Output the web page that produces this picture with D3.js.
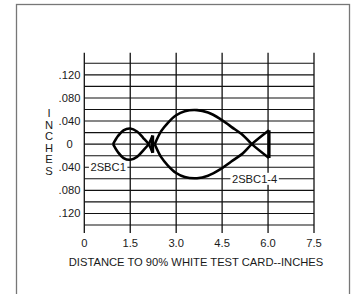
<!DOCTYPE html>
<html>
<head>
<meta charset="utf-8">
<script src="https://cdn.jsdelivr.net/npm/d3@7"></script>
<style>
  html, body { margin: 0; padding: 0; background: #fff; }
  svg { display: block; }
  text { font-family: "Liberation Sans", Arial, sans-serif; fill: #1a1a1a; }
</style>
</head>
<body>
<svg id="chart" width="352" height="294"></svg>
<script>
// ---- data ----
const xTicks = [0, 1.5, 3.0, 4.5, 6.0, 7.5];
const xTickLabels = ["0", "1.5", "3.0", "4.5", "6.0", "7.5"];
const yGrid = [0.14, 0.12, 0.10, 0.08, 0.06, 0.04, 0.02, 0, -0.02, -0.04, -0.06, -0.08, -0.10, -0.12, -0.14];
const yTicks = [0.12, 0.08, 0.04, 0, -0.04, -0.08, -0.12];
const yTickLabels = [".120", ".080", ".040", "0", ".040", ".080", ".120"];

// 2SBC1 (small pattern): upper contour from nose to tail bottom, lower from nose to tail top
const s1UpperX = [0.94, 1.10, 1.28, 1.50, 1.72, 1.92, 2.10, 2.23];
const s1UpperY = [0.000, 0.014, 0.024, 0.027, 0.022, 0.011, 0.000, -0.015];
const s1LowerX = [0.94, 1.10, 1.28, 1.50, 1.72, 1.92, 2.10, 2.23];
const s1LowerY = [0.000, -0.014, -0.024, -0.027, -0.022, -0.011, 0.000, 0.015];

// 2SBC1-4 (large pattern)
const s2UpperX = [2.30, 2.51, 2.73, 3.00, 3.28, 3.68, 4.04, 4.42, 4.80, 5.18, 5.47, 6.03];
const s2UpperY = [0.000, 0.0225, 0.037, 0.050, 0.057, 0.059, 0.0547, 0.0443, 0.030, 0.0156, 0.000, -0.024];
const s2LowerX = [2.30, 2.51, 2.73, 3.00, 3.28, 3.68, 4.04, 4.42, 4.80, 5.18, 5.47, 6.03];
const s2LowerY = [0.000, -0.0225, -0.037, -0.050, -0.057, -0.059, -0.0547, -0.0443, -0.030, -0.0156, 0.000, 0.024];

const seriesNames = ["2SBC1", "2SBC1-4"];
const labelPos = [[0.20, -0.04], [4.82, -0.06]];

// ---- drawing ----
const svg = d3.select("#chart");
const x = d3.scaleLinear().domain([0, 7.5]).range([84.3, 314]);
const y = d3.scaleLinear().domain([-0.14, 0.14]).range([225, 63.3]);
const fs = 11.2;

// frame
svg.append("rect").attr("x", 16.5).attr("y", 4.5).attr("width", 333).attr("height", 300)
  .attr("fill", "none").attr("stroke", "#777").attr("stroke-width", 1.3);

// horizontal grid
svg.append("g").selectAll("line").data(yGrid).join("line")
  .attr("x1", x(0)).attr("x2", x(7.5))
  .attr("y1", d => y(d)).attr("y2", d => y(d))
  .attr("stroke", "#111").attr("stroke-width", 1.1);

// vertical grid lines (extend beyond the grid)
svg.append("g").selectAll("line").data(xTicks).join("line")
  .attr("x1", d => x(d)).attr("x2", d => x(d))
  .attr("y1", y(0.14) - 10.5).attr("y2", y(-0.14) + 8)
  .attr("stroke", "#111").attr("stroke-width", 1.3);

// x tick labels
svg.append("g").selectAll("text").data(xTicks).join("text")
  .attr("x", d => x(d)).attr("y", 246.8)
  .attr("text-anchor", "middle").attr("font-size", fs)
  .text((d, i) => xTickLabels[i]);

// y tick labels
svg.append("g").selectAll("text").data(yTicks).join("text")
  .attr("x", 69.5).attr("y", d => y(d) + 4)
  .attr("text-anchor", "middle").attr("font-size", fs)
  .text((d, i) => yTickLabels[i]);

// y title (stacked letters)
const yTitle = "INCHES".split("");
svg.append("g").selectAll("text").data(yTitle).join("text")
  .attr("x", 49).attr("y", (d, i) => 117.3 + i * 11.5)
  .attr("text-anchor", "middle").attr("font-size", fs)
  .text(d => d);

// x title
svg.append("text").attr("x", 196).attr("y", 265.8)
  .attr("text-anchor", "middle").attr("font-size", fs)
  .text("DISTANCE TO 90% WHITE TEST CARD--INCHES");

// curves
const line = d3.line().x(d => x(d[0])).y(d => y(d[1])).curve(d3.curveCatmullRom.alpha(0.5));
const straight = d3.line().x(d => x(d[0])).y(d => y(d[1]));
const shapes = [
  [s1UpperX, s1UpperY, s1LowerX, s1LowerY],
  [s2UpperX, s2UpperY, s2LowerX, s2LowerY]
];
const cg = svg.append("g").attr("fill", "none").attr("stroke", "#000").attr("stroke-width", 2.6)
  .attr("stroke-linejoin", "round");
shapes.forEach(s => {
  const up = s[0].map((v, i) => [v, s[1][i]]);
  const lo = s[2].map((v, i) => [v, s[3][i]]);
  cg.append("path").attr("d", line(up));
  cg.append("path").attr("d", line(lo));
  cg.append("path").attr("d", straight([up[up.length - 1], lo[lo.length - 1]])).attr("stroke-width", 3.2);
});

// series labels with white background
seriesNames.forEach((name, i) => {
  const t = svg.append("text").attr("x", x(labelPos[i][0])).attr("y", y(labelPos[i][1]) + 4)
    .attr("font-size", fs).text(name);
  const b = t.node().getBBox();
  svg.insert("rect", () => t.node())
    .attr("x", b.x - 1.5).attr("y", b.y).attr("width", b.width + 3).attr("height", b.height)
    .attr("fill", "#fff");
});
</script>
</body>
</html>
